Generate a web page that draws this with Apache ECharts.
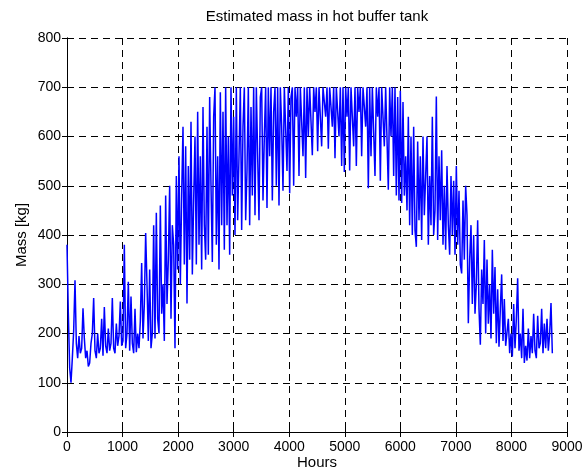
<!DOCTYPE html>
<html>
<head>
<meta charset="utf-8">
<title>Estimated mass in hot buffer tank</title>
<script src="https://cdn.jsdelivr.net/npm/echarts@6/dist/echarts.min.js"></script>
<style>
  html, body { margin: 0; padding: 0; background: #ffffff; }
  #chart { width: 588px; height: 469px; }
</style>
</head>
<body>
<div id="chart"></div>
<script>
// Tank mass, one sample per day of the year (kg)
const HOURS_PER_SAMPLE = 24;
const massKg = [
  380, 240, 130, 100, 150, 205, 308, 180, 150, 195,
  160, 170, 251, 190, 150, 165, 133, 140, 180, 200,
  272, 165, 150, 200, 160, 170, 230, 155, 254, 175,
  160, 210, 165, 180, 272, 170, 160, 220, 175, 195,
  265, 175, 185, 380, 170, 200, 305, 165, 275, 180,
  160, 250, 162, 200, 170, 225, 343, 190, 260, 404,
  300, 185, 330, 170, 200, 420, 190, 445, 230, 200,
  460, 240, 300, 185, 480, 260, 350, 500, 230, 420,
  380, 170, 520, 330, 560, 300, 480, 620, 340, 580,
  261, 540, 350, 630, 320, 470, 600, 340, 650, 380,
  560, 330, 660, 420, 350, 620, 360, 680, 500, 345,
  640, 700, 380, 560, 330, 690, 420, 650, 370, 700,
  420, 600, 360, 700, 480, 640, 400, 700, 430, 560,
  700, 410, 620, 700, 430, 530, 700, 420, 660, 480,
  700, 440, 700, 560, 430, 680, 700, 470, 600, 700,
  455, 700, 560, 700, 470, 650, 700, 500, 700, 460,
  700, 620, 490, 700, 700, 530, 700, 485, 680, 700,
  500, 700, 640, 700, 520, 700, 700, 560, 700, 516,
  700, 600, 700, 700, 562, 700, 650, 700, 570, 700,
  700, 580, 700, 700, 640, 700, 575, 700, 700, 620,
  700, 556, 700, 700, 600, 700, 540, 700, 528, 700,
  640, 700, 531, 700, 700, 580, 700, 540, 700, 650,
  700, 560, 700, 700, 620, 700, 495, 700, 560, 700,
  700, 520, 700, 640, 700, 510, 700, 700, 580, 700,
  700, 492, 700, 600, 700, 520, 700, 480, 680, 470,
  693, 465, 670, 480, 560, 450, 640, 420, 600, 400,
  620, 410, 376, 590, 430, 560, 390, 600, 440, 520,
  600, 380, 520, 420, 640, 400, 450, 681, 390, 560,
  430, 572, 380, 500, 370, 540, 420, 360, 520, 400,
  510, 360, 540, 380, 490, 340, 322, 470, 350, 500,
  440, 221, 350, 420, 260, 400, 240, 300, 430, 250,
  177, 330, 260, 390, 200, 350, 220, 300, 190, 370,
  240, 335, 180, 290, 173, 250, 320, 185, 270, 175,
  175, 230, 160, 200, 153, 260, 170, 230, 312, 165,
  200, 150, 250, 140, 175, 145, 210, 150, 195, 160,
  240, 165, 150, 236, 170, 180, 250, 160, 220, 170,
  230, 165, 200, 262, 160
];

// Axis ranges and tick spacing
const xRange = { min: 0, max: 9000, step: 1000 };
const yRange = { min: 0, max: 800, step: 100 };

const titleText = 'Estimated mass in hot buffer tank';
const xName = 'Hours';
const yName = 'Mass [kg]';

const points = massKg.map((m, i) => [i * HOURS_PER_SAMPLE, m]);

const FONT = '"Liberation Sans", Arial, Helvetica, sans-serif';
const gridDash = { type: [7, 5], color: '#000000', width: 1 };
const frameLine = { show: true, lineStyle: { color: '#000000', width: 1 } };
const innerTick = { show: true, inside: true, length: 5, lineStyle: { color: '#000000', width: 1 } };
const plainNumber = v => String(v);

const chart = echarts.init(document.getElementById('chart'), null, { renderer: 'canvas' });
chart.setOption({
  animation: false,
  backgroundColor: '#ffffff',
  title: {
    text: titleText,
    left: 317,
    top: 9,
    padding: 0,
    textAlign: 'center',
    textStyle: { fontFamily: FONT, fontSize: 15, fontWeight: 'normal', color: '#000000' }
  },
  grid: {
    left: 67, top: 38, right: 21, bottom: 37,
    containLabel: false,
    outerBoundsMode: 'none'
  },
  xAxis: [
    {
      type: 'value', position: 'bottom',
      min: xRange.min, max: xRange.max, interval: xRange.step,
      name: xName, nameLocation: 'middle', nameGap: 23, nameMoveOverlap: false,
      nameTextStyle: { fontFamily: FONT, fontSize: 15, color: '#000000' },
      axisLine: frameLine, axisTick: innerTick,
      axisLabel: { fontFamily: FONT, fontSize: 14, color: '#000000', margin: 8, formatter: plainNumber },
      splitLine: { show: true, lineStyle: gridDash }
    },
    {
      type: 'value', position: 'top',
      min: xRange.min, max: xRange.max, interval: xRange.step,
      axisLine: frameLine, axisTick: innerTick,
      axisLabel: { show: false }, splitLine: { show: false }
    }
  ],
  yAxis: [
    {
      type: 'value', position: 'left',
      min: yRange.min, max: yRange.max, interval: yRange.step,
      name: yName, nameLocation: 'middle', nameGap: 38, nameMoveOverlap: false,
      nameTextStyle: { fontFamily: FONT, fontSize: 15, color: '#000000' },
      axisLine: frameLine, axisTick: innerTick,
      axisLabel: { fontFamily: FONT, fontSize: 14, color: '#000000', margin: 6, formatter: plainNumber },
      splitLine: { show: true, lineStyle: gridDash }
    },
    {
      type: 'value', position: 'right',
      min: yRange.min, max: yRange.max, interval: yRange.step,
      axisLine: frameLine, axisTick: innerTick,
      axisLabel: { show: false }, splitLine: { show: false }
    }
  ],
  series: [
    {
      type: 'line',
      xAxisIndex: 0, yAxisIndex: 0,
      data: points,
      showSymbol: false,
      symbol: 'none',
      sampling: null,
      lineStyle: { color: '#0000ff', width: 1.5 },
      z: 3
    }
  ]
});
</script>
</body>
</html>
